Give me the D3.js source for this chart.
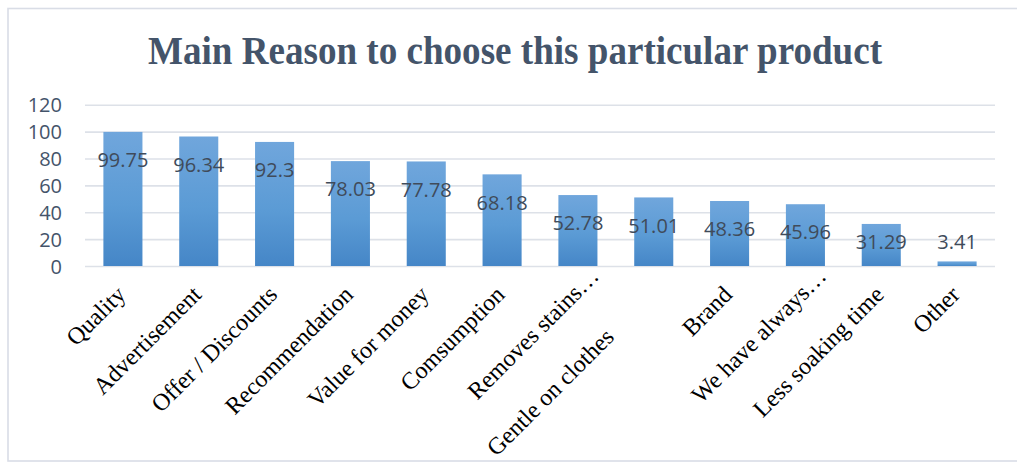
<!DOCTYPE html>
<html>
<head>
<meta charset="utf-8">
<script src="https://cdn.jsdelivr.net/npm/d3@7"></script>
<style>
  html, body { margin: 0; padding: 0; background: #ffffff; }
  svg { display: block; }
</style>
</head>
<body>
<svg id="chart" width="1017" height="462"></svg>
<script>
// Reasons given for choosing the product (percent of respondents)
const categories = [
  "Quality", "Advertisement", "Offer / Discounts", "Recommendation",
  "Value for money", "Comsumption", "Removes stains\u2026", "Gentle on clothes",
  "Brand", "We have always\u2026", "Less soaking time", "Other"
];
const values = [99.75, 96.34, 92.3, 78.03, 77.78, 68.18, 52.78, 51.01, 48.36, 45.96, 31.29, 3.41];
const valueLabels = ["99.75", "96.34", "92.3", "78.03", "77.78", "68.18", "52.78", "51.01", "48.36", "45.96", "31.29", "3.41"];
const yTicks = [0, 20, 40, 60, 80, 100, 120];
const title = "Main Reason to choose this particular product";

// Shift of some category labels along their own baseline (px)
const labelShift = { "Removes stains\u2026": 26, "We have always\u2026": 26, "Gentle on clothes": -60 };

const svg = d3.select("#chart");
const W = 1017, H = 462;
const plot = { left: 85, right: 995, top: 104.7, bottom: 266 };

// chart frame
svg.append("rect")
  .attr("x", 8).attr("y", 8.5)
  .attr("width", W + 10).attr("height", 452.5)
  .attr("fill", "#ffffff")
  .attr("stroke", "#d9dde6").attr("stroke-width", 1.6);

// gradient for bars
const defs = svg.append("defs");
const grad = defs.append("linearGradient")
  .attr("id", "barGrad").attr("x1", 0).attr("y1", 0).attr("x2", 0).attr("y2", 1);
grad.append("stop").attr("offset", "0%").attr("stop-color", "#70a6dc");
grad.append("stop").attr("offset", "55%").attr("stop-color", "#5b9bd5");
grad.append("stop").attr("offset", "100%").attr("stop-color", "#4586c7");

const x = d3.scaleBand()
  .domain(categories)
  .range([plot.left, plot.right])
  .paddingInner(0.485)
  .paddingOuter(0.2425);

const y = d3.scaleLinear()
  .domain([0, 120])
  .range([plot.bottom, plot.top]);

// title
svg.append("text")
  .attr("x", 515).attr("y", 64)
  .attr("text-anchor", "middle")
  .attr("font-family", "'Liberation Serif', 'Times New Roman', serif")
  .attr("font-weight", "bold")
  .attr("font-size", 40)
  .attr("textLength", 734)
  .attr("lengthAdjust", "spacingAndGlyphs")
  .attr("fill", "#44546a")
  .text(title);

// gridlines + y axis labels
const yAxis = d3.axisLeft(y)
  .tickValues(yTicks)
  .tickSize(-(plot.right - plot.left))
  .tickPadding(23)
  .tickFormat(d3.format("d"));

const gy = svg.append("g")
  .attr("transform", `translate(${plot.left},0)`)
  .call(yAxis);
gy.select(".domain").remove();
gy.selectAll(".tick line")
  .attr("stroke", "#dde1e8")
  .attr("stroke-width", 1.6);
gy.selectAll(".tick text")
  .attr("font-family", "'Open Sans', 'Noto Sans', sans-serif")
  .attr("font-size", 20)
  .attr("fill", "#44546a")
  .attr("dy", "0.36em");

// bars
svg.append("g").selectAll("rect")
  .data(values)
  .join("rect")
  .attr("x", (d, i) => x(categories[i]))
  .attr("y", d => y(d))
  .attr("width", x.bandwidth())
  .attr("height", d => y(0) - y(d))
  .attr("fill", "url(#barGrad)");

// value labels
svg.append("g").selectAll("text")
  .data(values)
  .join("text")
  .attr("x", (d, i) => x(categories[i]) + x.bandwidth() / 2)
  .attr("y", d => Math.min(y(d) + 28, 241.5))
  .attr("dy", "0.36em")
  .attr("text-anchor", "middle")
  .attr("font-family", "'Open Sans', 'Noto Sans', sans-serif")
  .attr("font-size", 20)
  .attr("fill", "#404b5a")
  .text((d, i) => valueLabels[i]);

// category labels, rotated -45deg
const xAxis = d3.axisBottom(x).tickSize(0).tickPadding(0);
const gx = svg.append("g")
  .attr("transform", `translate(0,${plot.bottom})`)
  .call(xAxis);
gx.select(".domain").remove();
gx.selectAll(".tick text")
  .attr("font-family", "'Liberation Serif', 'Times New Roman', serif")
  .attr("font-size", 24)
  .attr("fill", "#000000")
  .attr("text-anchor", "end")
  .attr("dy", null)
  .attr("y", 0)
  .attr("transform", d => {
    const s = labelShift[d] || 0;
    const dx = 4 + s * Math.SQRT1_2, dy = 30 - s * Math.SQRT1_2;
    return `translate(${dx},${dy}) rotate(-45)`;
  });
</script>
</body>
</html>
